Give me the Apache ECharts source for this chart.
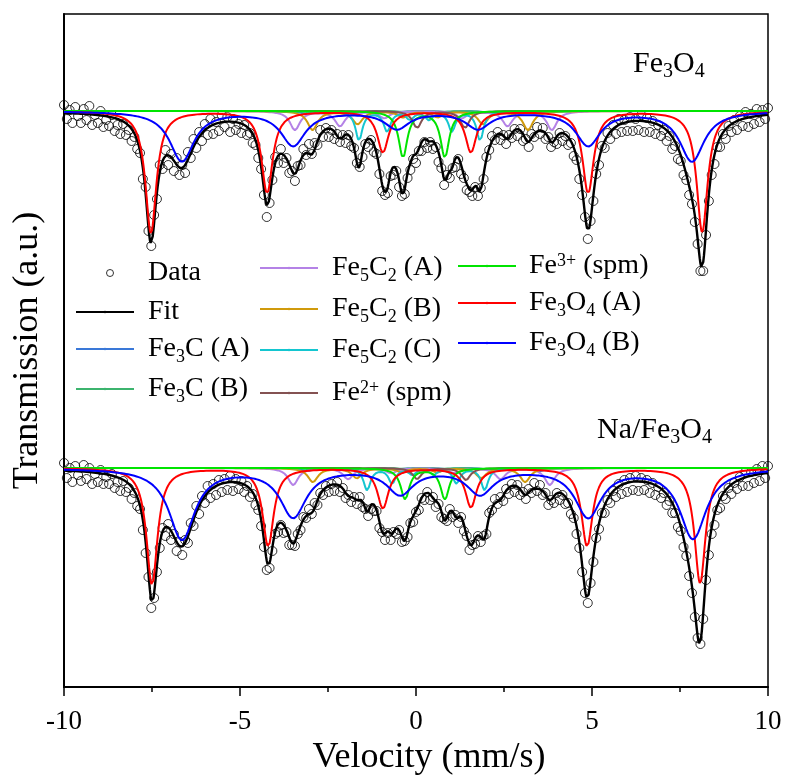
<!DOCTYPE html>
<html><head><meta charset="utf-8"><title>Mossbauer spectra</title>
<script src="https://cdn.jsdelivr.net/npm/echarts@6.0.0/dist/echarts.min.js"></script>
<style>html,body{margin:0;padding:0;background:#fff;}#chart{width:787px;height:776px;}</style>
</head><body><div id="chart"></div>
<script>
const FONT = '"Liberation Serif","Times New Roman",Times,serif';

// ---------- data ----------
const velocityTicks = [-10, -5, 0, 5, 10];
const componentNames = ['Fe3C (A)', 'Fe3C (B)', 'Fe5C2 (A)', 'Fe5C2 (B)', 'Fe5C2 (C)', 'Fe2+ (spm)', 'Fe3+ (spm)', 'Fe3O4 (A)', 'Fe3O4 (B)'];

// measured channels: velocity of first channel and channel spacing (mm/s)
const channelStart = -10;
const channelStep = 0.08;

// Fe3O4 sample: measured absorption (a.u.) per channel
const topAbsorption = [
 -6,8,-1,12,-4,5,12,-2,9,-5,
 14,4,12,0,16,9,15,4,20,14,
 23,13,24,19,30,26,38,42,68,76,
 120,135,104,88,54,58,39,54,43,60,
 47,64,54,62,41,47,28,37,21,30,
 13,24,8,23,11,20,4,16,6,21,
 8,19,13,22,14,24,22,32,34,47,
 58,84,106,92,69,46,52,38,52,47,
 62,60,70,55,54,38,44,33,43,32,
 34,19,26,17,26,19,28,23,31,24,
 32,24,35,37,52,56,46,33,36,29,
 41,43,63,80,84,82,65,64,60,76,
 85,83,67,59,48,52,40,40,31,37,
 31,38,36,51,57,74,64,67,57,56,
 48,63,67,79,81,85,76,85,77,68,
 46,39,25,29,21,29,24,33,24,27,
 18,25,18,30,28,36,23,26,16,23,
 17,28,26,36,31,33,22,30,25,34,
 32,45,49,68,84,106,128,110,90,63,
 54,35,37,22,28,14,23,8,21,9,
 20,6,20,8,19,4,21,7,21,10,
 23,14,25,19,30,25,38,35,48,50,
 64,69,84,93,111,133,160,160,124,90,
 64,53,36,36,23,28,15,21,9,19,
 5,15,1,16,3,13,-2,11,-1,8,
 -3
];
// Na/Fe3O4 sample: measured absorption (a.u.) per channel
const bottomAbsorption = [
 -5,10,0,14,-2,7,13,-3,11,0,
 16,6,14,2,16,9,16,6,20,14,
 23,13,24,20,31,25,38,41,62,85,
 109,140,130,104,80,60,68,56,72,66,
 83,74,87,72,75,55,58,38,46,28,
 35,18,30,16,27,12,24,11,22,8,
 23,11,21,13,24,18,29,26,37,42,
 58,79,102,100,83,66,64,57,65,64,
 77,77,78,66,62,49,50,41,46,35,
 37,25,27,18,24,16,23,14,24,20,
 30,27,34,29,36,29,39,41,48,41,
 43,43,60,64,72,65,72,64,66,62,
 74,73,69,55,54,44,42,30,32,24,
 32,29,39,36,49,51,53,41,49,47,
 55,49,63,68,82,77,76,68,74,68,
 66,45,42,31,36,29,33,21,26,16,
 24,17,27,24,31,21,25,15,23,17,
 27,25,37,32,35,25,32,27,36,35,
 46,50,66,80,104,125,135,115,94,70,
 61,45,45,32,35,23,29,16,26,12,
 24,10,22,8,23,10,22,12,25,15,
 27,19,30,25,37,33,45,45,59,63,
 79,88,108,125,149,170,176,151,112,87,
 66,57,42,40,28,31,20,26,15,21,
 9,18,4,18,4,15,1,13,-2,10,
 -2
];

// fitted sub-spectra: line positions (mm/s), line depths (a.u.), half widths (mm/s)
const topLinePositions = [
 [-3.1,-1.75,-0.45,0.85,2.15,3.5],
 [-2.9,-1.6,-0.35,0.75,2.0,3.3],
 [-3.44,-2.16,-0.9,1.3,2.6,3.86],
 [-2.94,-1.66,-0.37,0.61,1.9,3.18],
 [-1.62,-0.82,-0.17,0.37,1.02,1.82],
 [0.03,1.39],
 [-0.37,0.82],
 [-7.53,-4.23,-0.94,1.56,4.89,8.13],
 [-6.65,-3.49,-0.54,1.76,4.89,7.84]
];
const topLineDepths = [
 [3,2,1,1,2,3],
 [2,1.5,0.7,0.7,1.5,2],
 [19,15,7,7,15,19],
 [19,13,6,6,13,19],
 [29,20,8,8,20,29],
 [17,17],
 [46,46],
 [122,82,41,41,82,121],
 [50,34,17,17,34,50]
];
const topLineWidths = [0.2,0.2,0.17,0.17,0.12,0.15,0.15,0.19,0.42];

const bottomLinePositions = [
 [-3.1,-1.75,-0.45,0.85,2.15,3.5],
 [-2.9,-1.6,-0.35,0.75,2.0,3.3],
 [-3.49,-1.93,-0.7,1.1,2.4,3.8],
 [-2.93,-1.68,-0.4,0.6,1.85,3.1],
 [-1.39,-0.68,-0.1,0.5,1.15,1.95],
 [0.03,1.42],
 [-0.31,0.82],
 [-7.5,-4.2,-0.94,1.56,4.86,8.07],
 [-6.65,-3.49,-0.45,1.82,4.89,7.87]
];
const bottomLineDepths = [
 [3,2,1,1,2,3],
 [2,1.5,0.7,0.7,1.5,2],
 [17,11,5,5,11,17],
 [14,10,4,4,10,14],
 [22,15,6,6,15,22],
 [11,12],
 [31,31],
 [117,78,40,39,78,115],
 [71,48,25,25,48,70]
];
const bottomLineWidths = [0.2,0.2,0.17,0.17,0.12,0.15,0.15,0.19,0.45];

// ---------- presentation ----------
const stackOffsetTop = 576;     // vertical offset of the stacked spectra (a.u.)
const stackOffsetBottom = 219;
const yMax = 673;
const componentColors = ['#3a78d8','#3cb46e','#b482e6','#d09a0c','#14c6d0','#845252','#00e400','#ff0000','#0000ff'];

const curveGrid = [];
for (let i = 0; i <= 1000; i++) curveGrid.push(-10 + i * 0.02);

function lorentzSextet(pos, depth, w) {
  return curveGrid.map(v => {
    let s = 0;
    for (let k = 0; k < pos.length; k++) { const d = (v - pos[k]) / w; s += depth[k] / (1 + d * d); }
    return s;
  });
}

const series = [];
function addSpectrum(abs, pos, depth, width, offset) {
  series.push({
    type: 'scatter', name: 'Data', silent: true,
    data: abs.map((a, i) => [channelStart + i * channelStep, offset - a]),
    symbol: 'circle', symbolSize: 9,
    itemStyle: { color: 'rgba(255,255,255,0)', borderColor: '#000', borderWidth: 1 },
    z: 2
  });
  const comps = pos.map((p, k) => lorentzSextet(p, depth[k], width[k]));
  const fit = curveGrid.map((v, j) => comps.reduce((s, c) => s + c[j], 0));
  series.push({
    type: 'line', name: 'Fit', silent: true, symbol: 'none',
    data: curveGrid.map((v, j) => [v, offset - fit[j]]),
    lineStyle: { color: '#000', width: 2.4 }, itemStyle: { color: '#000' }, z: 3
  });
  comps.forEach((c, k) => series.push({
    type: 'line', name: componentNames[k], silent: true, symbol: 'none',
    data: curveGrid.map((v, j) => [v, offset - c[j]]),
    lineStyle: { color: componentColors[k], width: 2 }, itemStyle: { color: componentColors[k] }, z: 4 + k
  }));
}
addSpectrum(topAbsorption, topLinePositions, topLineDepths, topLineWidths, stackOffsetTop);
addSpectrum(bottomAbsorption, bottomLinePositions, bottomLineDepths, bottomLineWidths, stackOffsetBottom);

const richLabel = {
  'Data': 'Data', 'Fit': 'Fit',
  'Fe3C (A)': 'Fe{s|3}C (A)', 'Fe3C (B)': 'Fe{s|3}C (B)',
  'Fe5C2 (A)': 'Fe{s|5}C{s|2} (A)', 'Fe5C2 (B)': 'Fe{s|5}C{s|2} (B)', 'Fe5C2 (C)': 'Fe{s|5}C{s|2} (C)',
  'Fe2+ (spm)': 'Fe{p|2+} (spm)', 'Fe3+ (spm)': 'Fe{p|3+} (spm)',
  'Fe3O4 (A)': 'Fe{s|3}O{s|4} (A)', 'Fe3O4 (B)': 'Fe{s|3}O{s|4} (B)'
};
const legendLayout = [
  { name: 'Data', left: 106, y: 273, h: 7, gap: 4 },
  { name: 'Fit', left: 75, y: 312, h: 3, gap: 9 },
  { name: 'Fe3C (A)', left: 75, y: 347, h: 3, gap: 9 },
  { name: 'Fe3C (B)', left: 75, y: 387, h: 3, gap: 9 },
  { name: 'Fe5C2 (A)', left: 259, y: 266, h: 3, gap: 9 },
  { name: 'Fe5C2 (B)', left: 259, y: 307, h: 3, gap: 9 },
  { name: 'Fe5C2 (C)', left: 259, y: 348, h: 3, gap: 9 },
  { name: 'Fe2+ (spm)', left: 259, y: 393, h: 3, gap: 9 },
  { name: 'Fe3+ (spm)', left: 457, y: 266, h: 3, gap: 8 },
  { name: 'Fe3O4 (A)', left: 457, y: 301, h: 3, gap: 8 },
  { name: 'Fe3O4 (B)', left: 457, y: 341, h: 3, gap: 8 }
];
const richStyles = {
  g: { width: 9, fontSize: 28, fontFamily: FONT, lineHeight: 30 },
  s: { fontSize: 18, fontFamily: FONT, padding: [16, 0, 0, 0], lineHeight: 30, color: '#000' },
  p: { fontSize: 18, fontFamily: FONT, padding: [0, 0, 10, 0], lineHeight: 30, color: '#000' }
};
const legends = legendLayout.map(L => ({
  data: L.name === 'Data'
    ? [{ name: 'Data', icon: 'circle', itemStyle: { color: 'rgba(255,255,255,0)', borderColor: '#000', borderWidth: 1 } }]
    : [L.name],
  left: L.left, top: L.y - 15, orient: 'vertical', padding: 0, itemGap: 0,
  itemWidth: 58, itemHeight: L.h, selectedMode: false,
  formatter: name => '{g| }' + richLabel[name],
  textStyle: {
    fontFamily: FONT, fontSize: 28, color: '#000', lineHeight: 30,
    rich: Object.assign({}, richStyles, { g: Object.assign({}, richStyles.g, { width: L.gap }) })
  }
}));

const option = {
  animation: false,
  backgroundColor: '#fff',
  grid: { left: 64, right: 19, top: 14, bottom: 89, show: true, borderColor: '#000', borderWidth: 1.5, outerBoundsMode: 'none', containLabel: false },
  xAxis: {
    type: 'value', min: velocityTicks[0], max: velocityTicks[velocityTicks.length - 1], interval: 5,
    name: 'Velocity (mm/s)', nameLocation: 'middle', nameGap: 51,
    nameTextStyle: { fontFamily: FONT, fontSize: 36, color: '#000', padding: [0, 0, 0, 26] },
    axisLine: { onZero: false, lineStyle: { color: '#000', width: 2 } },
    axisTick: { show: true, inside: false, length: 9, lineStyle: { color: '#000', width: 1.5 } },
    minorTick: { show: true, splitNumber: 2, length: 5, lineStyle: { color: '#000', width: 1.5 } },
    axisLabel: { fontFamily: FONT, fontSize: 27, color: '#000', margin: 21, showMinLabel: true, showMaxLabel: true },
    splitLine: { show: false }
  },
  yAxis: {
    type: 'value', min: 0, max: yMax,
    name: 'Transmission (a.u.)', nameLocation: 'middle', nameGap: 18,
    nameTextStyle: { fontFamily: FONT, fontSize: 36, color: '#000' },
    axisLine: { show: true, onZero: false, lineStyle: { color: '#000', width: 2 } },
    axisTick: { show: false }, axisLabel: { show: false }, splitLine: { show: false }
  },
  legend: legends,
  graphic: [
    { type: 'text', x: 633, y: 64, silent: true,
      style: { text: 'Fe{s|3}O{s|4}', fontFamily: FONT, fontSize: 30, fill: '#000', verticalAlign: 'middle', lineHeight: 34,
        rich: { s: { fontSize: 20, fontFamily: FONT, padding: [16, 0, 0, 0], lineHeight: 34 } } } },
    { type: 'text', x: 597, y: 430, silent: true,
      style: { text: 'Na/Fe{s|3}O{s|4}', fontFamily: FONT, fontSize: 30, fill: '#000', verticalAlign: 'middle', lineHeight: 34,
        rich: { s: { fontSize: 20, fontFamily: FONT, padding: [16, 0, 0, 0], lineHeight: 34 } } } }
  ],
  series: series
};

const chart = echarts.init(document.getElementById('chart'), null, { renderer: 'canvas' });
chart.setOption(option);
</script></body></html>
